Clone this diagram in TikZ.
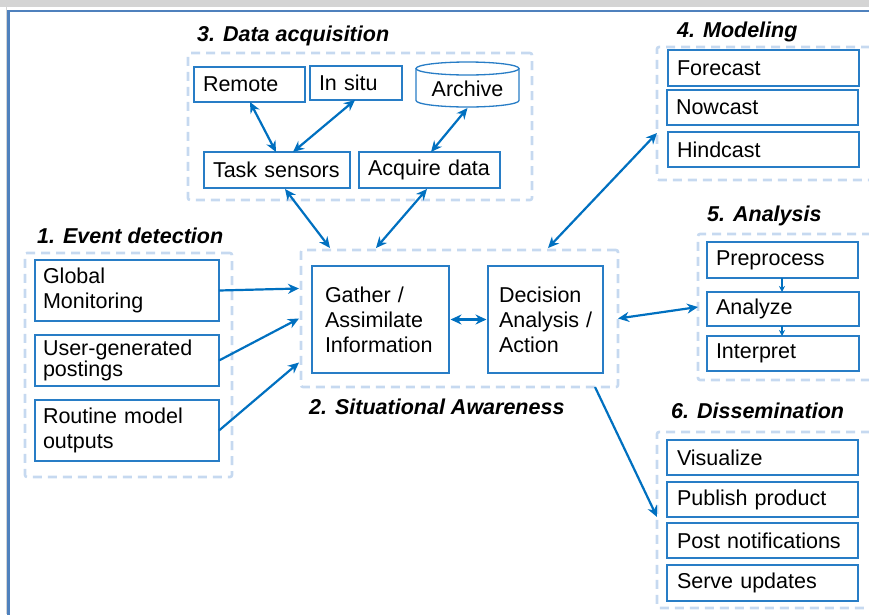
\documentclass[tikz,border=0pt]{standalone}
\usepackage{fontspec}
\setmainfont{Liberation Sans}
\usetikzlibrary{arrows.meta,calc}
\definecolor{boxc}{RGB}{40,125,198}
\definecolor{arrc}{RGB}{0,112,192}
\definecolor{grpc}{RGB}{198,217,240}
\definecolor{framec}{RGB}{79,129,189}
\definecolor{bandc}{RGB}{212,212,212}
\newcommand\bodyfont{\fontsize{21.5pt}{25pt}\selectfont}
\newcommand\titlefont{\fontsize{21.5pt}{25pt}\selectfont\bfseries\itshape}
\tikzset{
  box/.style={draw=boxc, line width=1.3pt, fill=white, anchor=north west, align=left,
    font=\bodyfont, inner ysep=0pt, outer sep=0pt},
  grp/.style={draw=grpc, line width=2.6pt, dash pattern=on 9pt off 6pt, anchor=north west,
    inner sep=0pt, outer sep=0pt, rounded corners=2pt},
  ttl/.style={anchor=base west, inner sep=0pt, font=\titlefont},
  link/.style={draw=arrc, line width=2.2pt, {Stealth[length=11pt,width=10pt]}-{Stealth[length=11pt,width=10pt]}},
  flow/.style={draw=arrc, line width=2.2pt, -{Stealth[length=11pt,width=10pt]}},
  tiny/.style={draw=arrc, line width=1.4pt, -{Stealth[length=6pt,width=6pt]}},
}
\newcommand\mkbox[7]{%
  \pgfmathsetmacro\bw{#4-#2}%
  \pgfmathsetmacro\bh{#5-#3}%
  \pgfmathsetmacro\tw{\bw-2*#6}%
  \node[box, minimum width=\bw pt, minimum height=\bh pt, text width=\tw pt, inner xsep=#6pt] (#1) at (#2,#3) {#7};}
\begin{document}
\begin{tikzpicture}[x=1pt,y=-1pt]
\useasboundingbox (0,0) rectangle (869,614);
\clip (0,0) rectangle (869,614);
% frame
\fill[bandc] (0,0) rectangle (869,7);
\fill[bandc] (5.8,7) rectangle (7.4,614);
\draw[framec, line width=2.5pt] (8.7,620) -- (8.7,11) -- (880,11);

% groups
\node[grp, minimum width=344pt, minimum height=147pt] (daq) at (188,53) {};
\node[grp, minimum width=317pt, minimum height=137pt] (sa) at (301,250) {};
\node[grp, minimum width=207pt, minimum height=224pt] (ed) at (25,253) {};
\node[grp, minimum width=230pt, minimum height=133pt] (mod) at (657,47) {};
\node[grp, minimum width=190pt, minimum height=146pt] (an) at (698,234) {};
\node[grp, minimum width=230pt, minimum height=176pt] (dis) at (657,432) {};

% titles
\node[ttl] (tdaq) at (197,41) {3. Data acquisition};
\node[ttl] (ted) at (37,243.5) {1. Event detection};
\node[ttl] (tsa) at (309,414.5) {2. Situational Awareness};
\node[ttl] (tmod) at (677,37.5) {4. Modeling};
\node[ttl] (tan) at (707,221.5) {5. Analysis};
\node[ttl] (tdis) at (671,418.5) {6. Dissemination};

% data acquisition
\mkbox{remote}{194}{67}{305}{102}{9}{\mbox{Remote}}
\mkbox{insitu}{310}{66}{402}{100}{9}{\mbox{In situ}}
\mkbox{tasks}{204}{152}{350}{188}{9}{\mbox{Task sensors}}
\mkbox{acq}{359}{152}{500}{188}{9}{\mbox{Acquire data}}
\node[minimum width=103pt, minimum height=45pt, inner sep=0pt, outer sep=0pt] (arch) at (467.5,84.5) {};
\draw[boxc, line width=1.3pt, fill=white] ([yshift=-6.5pt]arch.north west) -- ([yshift=6.5pt]arch.south west)
  arc[start angle=180, end angle=360, x radius=51.5pt, y radius=6.5pt] -- ([yshift=-6.5pt]arch.north east);
\draw[boxc, line width=1.3pt, fill=white] ([yshift=-6.5pt]arch.north) ellipse [x radius=51.5pt, y radius=6.5pt];
\node[font=\bodyfont, inner sep=0pt] (archt) at (467.5,89) {Archive};

% event detection
\mkbox{glob}{35}{260}{219}{321}{8}{Global\\\mbox{Monitoring}}
\mkbox{user}{35}{335}{219}{386}{8}{\mbox{User-generated}\\[-4pt]postings}
\mkbox{rout}{35}{400}{219}{461}{8}{\mbox{Routine model}\\outputs}

% situational awareness
\mkbox{gath}{312}{266}{449}{373}{13}{\mbox{Gather /}\\\mbox{Assimilate}\\\mbox{Information}}
\mkbox{dec}{488}{266}{603}{373}{11}{\mbox{Decision}\\\mbox{Analysis /}\\\mbox{Action}}

% modeling
\mkbox{fore}{668}{50}{859}{86}{9}{\mbox{Forecast}}
\mkbox{now}{667}{90}{858}{125}{9}{\mbox{Nowcast}}
\mkbox{hind}{668}{132}{859}{167}{9}{\mbox{Hindcast}}

% analysis
\mkbox{prep}{707}{242}{858}{278}{9}{\mbox{Preprocess}}
\mkbox{ana}{707}{292}{859}{326}{9}{\mbox{Analyze}}
\mkbox{intp}{707}{336}{859}{371}{9}{\mbox{Interpret}}

% dissemination
\mkbox{vis}{667}{440}{858}{475}{10}{\mbox{Visualize}}
\mkbox{pub}{667}{482}{858}{517}{10}{\mbox{Publish product}}
\mkbox{post}{667}{523}{858}{558}{10}{\mbox{Post notifications}}
\mkbox{serv}{667}{565}{858}{601}{10}{\mbox{Serve updates}}

% connectors
\draw[link] ([xshift=56pt]remote.south west) -- ([xshift=72pt]tasks.north west);
\draw[link] ([xshift=45pt]insitu.south west) -- ([xshift=89pt]tasks.north west);
\draw[link] ([yshift=-1pt]arch.south) -- ([xshift=72pt]acq.north west);
\draw[link] ([xshift=81pt,yshift=-1pt]tasks.south west) -- ([xshift=29pt,yshift=2pt]sa.north west);
\draw[link] ([xshift=68pt,yshift=-1pt]acq.south west) -- ([xshift=75pt,yshift=2pt]sa.north west);
\draw[link] ([xshift=247pt,yshift=2pt]sa.north west) -- ([yshift=-86pt]mod.north west);
\draw[link] (sa.east) -- (an.west);
\draw[flow] ([xshift=294pt]sa.south west) -- ([yshift=-85pt]dis.north west);
\draw[flow] (glob.east) -- ([yshift=30pt,xshift=-2pt]sa.west);
\draw[flow] (user.east) -- ([xshift=-2pt]sa.west);
\draw[flow] (rout.east) -- ([yshift=-44pt,xshift=-2pt]sa.west);
\draw[link] ([xshift=1.5pt]gath.east) -- ([xshift=-1.5pt]dec.west);
\draw[tiny] ([xshift=75pt]prep.south west) -- ([xshift=75pt]ana.north west);
\draw[tiny] ([xshift=75pt]ana.south west) -- ([xshift=75pt]intp.north west);
\end{tikzpicture}
\end{document}
